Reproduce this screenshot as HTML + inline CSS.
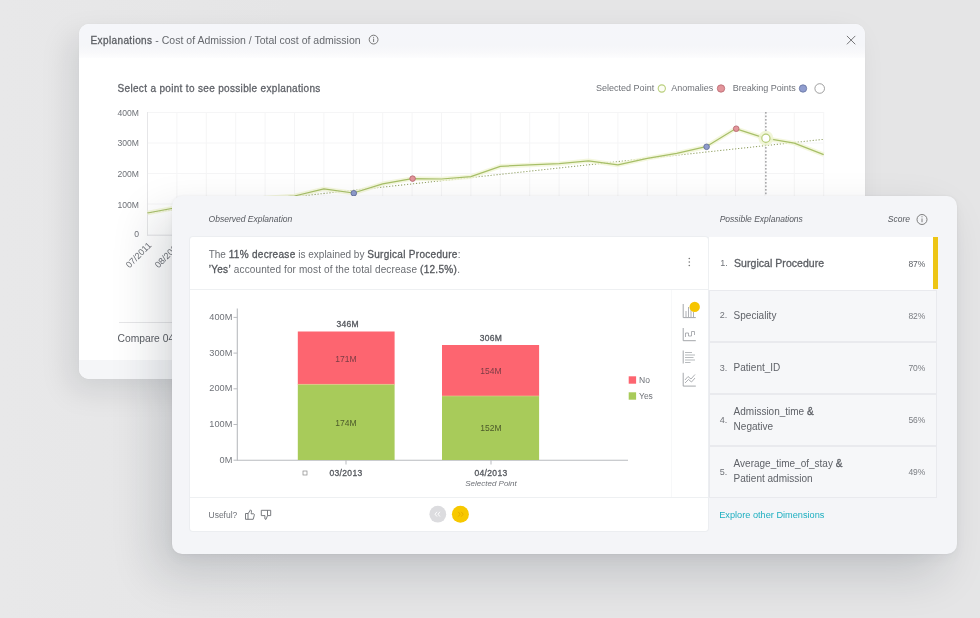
<!DOCTYPE html>
<html><head><meta charset="utf-8">
<style>
html,body{margin:0;padding:0;}
body{width:980px;height:618px;overflow:hidden;position:relative;background:#e5e5e6;font-family:"Liberation Sans",sans-serif;color:#5a5d63;}
.a{position:absolute;}
.t{position:absolute;white-space:nowrap;line-height:1;}
b{font-weight:400;-webkit-text-stroke:0.3px currentColor;letter-spacing:0.3px;}
svg{position:absolute;left:0;top:0;overflow:visible;}
</style></head><body><div style="position:absolute;left:0;top:0;width:980px;height:618px;overflow:hidden;filter:blur(0.3px);">

<div class="a" style="left:0;top:0;width:980px;height:618px;background:linear-gradient(90deg,#e8e8e9 0%,#e5e5e6 30%,#e5e5e6 100%);"></div>
<div class="a" style="left:79px;top:24px;width:786px;height:355px;border-radius:10px;background:#fff;box-shadow:-10px 12px 30px rgba(10,15,30,0.10), 0 0 2px rgba(0,0,0,0.04);overflow:hidden;"><div class="a" style="left:0;top:0;width:100%;height:34px;background:linear-gradient(#f5f6fa 0px,#f5f6f9 22px,#f9f9fb 29px,#fdfdfe 34px);"></div><div class="a" style="left:0;top:336px;width:100%;height:19px;background:#f5f6f8;"></div></div>
<div class="t" style="left:90.50px;top:34.73px;font-size:10px;color:#66696e;"><b style="color:#5c5f64;letter-spacing:0.39px">Explanations</b><span style="font-size:10.5px"> - Cost of Admission / Total cost of admission</span></div>
<div class="t" style="left:117.50px;top:83.53px;font-size:10px;color:#606369;"><b style="letter-spacing:0.33px">Select a point to see possible explanations</b></div>
<div class="t" style="left:596.10px;top:84.08px;font-size:9px;color:#6f7278;">Selected Point</div>
<div class="t" style="left:671.30px;top:84.08px;font-size:9px;color:#6f7278;">Anomalies</div>
<div class="t" style="left:732.80px;top:84.08px;font-size:9px;color:#6f7278;">Breaking Points</div>
<svg width="980" height="618">
<circle cx="373.6" cy="39.6" r="4.4" fill="none" stroke="#6a6a6a" stroke-width="0.9"/>
<line x1="373.6" y1="38.6" x2="373.6" y2="42" stroke="#6a6a6a" stroke-width="0.9"/>
<circle cx="373.6" cy="37.2" r="0.55" fill="#6a6a6a"/>
<path d="M846.9 35.9 L855.3 44.3 M855.3 35.9 L846.9 44.3" stroke="#707072" stroke-width="0.95"/>
<circle cx="661.8" cy="88.5" r="3.6" fill="#fcfdf5" stroke="#b9cf7c" stroke-width="1.1"/>
<circle cx="721" cy="88.5" r="3.7" fill="#e3959b" stroke="#b8666f" stroke-width="0.8"/>
<circle cx="803" cy="88.5" r="3.7" fill="#909dcf" stroke="#65729f" stroke-width="0.8"/>
<circle cx="819.7" cy="88.5" r="4.8" fill="none" stroke="#808080" stroke-width="0.75"/>
<line x1="176.9" y1="112" x2="176.9" y2="235" stroke="#f5f5f6" stroke-width="1"/>
<line x1="206.3" y1="112" x2="206.3" y2="235" stroke="#f5f5f6" stroke-width="1"/>
<line x1="235.7" y1="112" x2="235.7" y2="235" stroke="#f5f5f6" stroke-width="1"/>
<line x1="265.1" y1="112" x2="265.1" y2="235" stroke="#f5f5f6" stroke-width="1"/>
<line x1="294.5" y1="112" x2="294.5" y2="235" stroke="#f5f5f6" stroke-width="1"/>
<line x1="323.9" y1="112" x2="323.9" y2="235" stroke="#f5f5f6" stroke-width="1"/>
<line x1="353.3" y1="112" x2="353.3" y2="235" stroke="#f5f5f6" stroke-width="1"/>
<line x1="382.7" y1="112" x2="382.7" y2="235" stroke="#f5f5f6" stroke-width="1"/>
<line x1="412.1" y1="112" x2="412.1" y2="235" stroke="#f5f5f6" stroke-width="1"/>
<line x1="441.5" y1="112" x2="441.5" y2="235" stroke="#f5f5f6" stroke-width="1"/>
<line x1="470.9" y1="112" x2="470.9" y2="235" stroke="#f5f5f6" stroke-width="1"/>
<line x1="500.3" y1="112" x2="500.3" y2="235" stroke="#f5f5f6" stroke-width="1"/>
<line x1="529.7" y1="112" x2="529.7" y2="235" stroke="#f5f5f6" stroke-width="1"/>
<line x1="559.1" y1="112" x2="559.1" y2="235" stroke="#f5f5f6" stroke-width="1"/>
<line x1="588.5" y1="112" x2="588.5" y2="235" stroke="#f5f5f6" stroke-width="1"/>
<line x1="617.9" y1="112" x2="617.9" y2="235" stroke="#f5f5f6" stroke-width="1"/>
<line x1="647.3" y1="112" x2="647.3" y2="235" stroke="#f5f5f6" stroke-width="1"/>
<line x1="676.7" y1="112" x2="676.7" y2="235" stroke="#f5f5f6" stroke-width="1"/>
<line x1="706.1" y1="112" x2="706.1" y2="235" stroke="#f5f5f6" stroke-width="1"/>
<line x1="735.5" y1="112" x2="735.5" y2="235" stroke="#f5f5f6" stroke-width="1"/>
<line x1="764.9" y1="112" x2="764.9" y2="235" stroke="#f5f5f6" stroke-width="1"/>
<line x1="794.3" y1="112" x2="794.3" y2="235" stroke="#f5f5f6" stroke-width="1"/>
<line x1="823.7" y1="112" x2="823.7" y2="235" stroke="#f5f5f6" stroke-width="1"/>
<line x1="147.5" y1="112.5" x2="823.7" y2="112.5" stroke="#f5f5f6" stroke-width="1"/>
<line x1="147.5" y1="143" x2="823.7" y2="143" stroke="#f5f5f6" stroke-width="1"/>
<line x1="147.5" y1="173.5" x2="823.7" y2="173.5" stroke="#f5f5f6" stroke-width="1"/>
<line x1="147.5" y1="204" x2="823.7" y2="204" stroke="#f5f5f6" stroke-width="1"/>
<line x1="147.5" y1="112" x2="147.5" y2="235.5" stroke="#e6e6e8" stroke-width="1"/>
<line x1="147" y1="235.2" x2="823.7" y2="235.2" stroke="#e3e3e5" stroke-width="1"/>
<line x1="765.9" y1="112" x2="765.9" y2="236" stroke="#78787b" stroke-width="1" stroke-dasharray="1.7 1.8"/>
<line x1="147.5" y1="212.6" x2="823.7" y2="139.3" stroke="#93a266" stroke-width="1.05" stroke-dasharray="1.2 1.8"/>
<polyline points="147.5,213.0 176.9,207.5 206.3,204.0 235.7,201.0 265.1,198.0 294.5,196.0 323.9,188.9 353.3,193.0 382.7,183.8 412.1,178.6 441.5,179.0 470.9,176.7 500.3,166.3 529.7,164.9 559.1,163.7 588.5,160.8 617.9,164.9 647.3,158.4 676.7,153.4 706.1,146.7 735.5,128.7 764.9,138.2 794.3,143.1 823.7,154.6" fill="none" stroke="#f1f5d6" stroke-width="4.5" stroke-linejoin="round" opacity="0.8"/>
<polyline points="147.5,213.0 176.9,207.5 206.3,204.0 235.7,201.0 265.1,198.0 294.5,196.0 323.9,188.9 353.3,193.0 382.7,183.8 412.1,178.6 441.5,179.0 470.9,176.7 500.3,166.3 529.7,164.9 559.1,163.7 588.5,160.8 617.9,164.9 647.3,158.4 676.7,153.4 706.1,146.7 735.5,128.7 764.9,138.2 794.3,143.1 823.7,154.6" fill="none" stroke="#a7bf68" stroke-width="1.25" stroke-linejoin="round"/>
<circle cx="353.8" cy="193.2" r="2.8" fill="#8f9ccc" stroke="#5d6a96" stroke-width="0.8"/>
<circle cx="412.6" cy="178.6" r="2.8" fill="#e3959b" stroke="#b4626b" stroke-width="0.8"/>
<circle cx="706.6" cy="146.8" r="2.8" fill="#8f9ccc" stroke="#5d6a96" stroke-width="0.8"/>
<circle cx="736.2" cy="128.7" r="2.8" fill="#e3959b" stroke="#b4626b" stroke-width="0.8"/>
<circle cx="765.9" cy="138.2" r="7.5" fill="#eef5d2" opacity="0.85"/>
<circle cx="765.9" cy="138.2" r="4.1" fill="#fff" stroke="#b6cc78" stroke-width="1.2"/>
<line x1="119" y1="322.5" x2="845" y2="322.5" stroke="#e6e6e8" stroke-width="1"/>
</svg>
<div class="t" style="right:841.00px;top:108.72px;font-size:8.6px;color:#6f7278;">400M</div>
<div class="t" style="right:841.00px;top:139.32px;font-size:8.6px;color:#6f7278;">300M</div>
<div class="t" style="right:841.00px;top:169.92px;font-size:8.6px;color:#6f7278;">200M</div>
<div class="t" style="right:841.00px;top:200.52px;font-size:8.6px;color:#6f7278;">100M</div>
<div class="t" style="right:841.00px;top:229.72px;font-size:8.6px;color:#6f7278;">0</div>
<div class="t" style="left:106.7px;top:241.0px;width:40px;text-align:right;font-size:9px;color:#6f7278;transform-origin:100% 0;transform:rotate(-45deg);">07/2011</div>
<div class="t" style="left:136.1px;top:241.0px;width:40px;text-align:right;font-size:9px;color:#6f7278;transform-origin:100% 0;transform:rotate(-45deg);">08/2011</div>
<div class="t" style="left:165.5px;top:241.0px;width:40px;text-align:right;font-size:9px;color:#6f7278;transform-origin:100% 0;transform:rotate(-45deg);">09/2011</div>
<div class="t" style="left:194.9px;top:241.0px;width:40px;text-align:right;font-size:9px;color:#6f7278;transform-origin:100% 0;transform:rotate(-45deg);">10/2011</div>
<div class="t" style="left:224.3px;top:241.0px;width:40px;text-align:right;font-size:9px;color:#6f7278;transform-origin:100% 0;transform:rotate(-45deg);">11/2011</div>
<div class="t" style="left:253.7px;top:241.0px;width:40px;text-align:right;font-size:9px;color:#6f7278;transform-origin:100% 0;transform:rotate(-45deg);">12/2011</div>
<div class="t" style="left:117.50px;top:333.58px;font-size:10.3px;color:#5a5d63;">Compare 04/2013 with 03/2013</div>
<div class="a" style="left:172px;top:195.5px;width:785px;height:358.5px;border-radius:10px;background:#f4f5f8;box-shadow:-16px 20px 46px rgba(20,28,45,0.16), 0 5px 12px rgba(20,28,45,0.035), 0 0 3px rgba(0,0,0,0.05);"></div>
<div class="t" style="left:208.60px;top:214.80px;font-size:8.5px;color:#56595f;font-style:italic;">Observed Explanation</div>
<div class="t" style="left:719.70px;top:214.60px;font-size:8.5px;color:#56595f;font-style:italic;">Possible Explanations</div>
<div class="t" style="right:70.00px;top:214.60px;font-size:8.5px;color:#56595f;font-style:italic;">Score</div>
<div class="a" style="left:190px;top:237px;width:518px;height:294px;background:#fff;border-radius:3px;box-shadow:0 0 0 1px #eceef1;"></div>
<div class="t" style="left:208.70px;top:250.43px;font-size:10px;color:#6a6d72;">The <b style="color:#55585d">11% decrease</b> is explained by <b style="color:#55585d">Surgical Procedure</b>:</div>
<div class="t" style="left:208.70px;top:265.24px;font-size:10px;color:#6a6d72;letter-spacing:0.12px;"><b style="color:#55585d">’Yes’</b> accounted for most of the total decrease <b style="color:#55585d">(12.5%)</b>.</div>
<svg width="980" height="618">
<circle cx="922" cy="219.5" r="5" fill="none" stroke="#707070" stroke-width="0.9"/>
<line x1="922" y1="218.5" x2="922" y2="222.2" stroke="#707070" stroke-width="0.9"/>
<circle cx="922" cy="216.8" r="0.55" fill="#707070"/>
<circle cx="689.3" cy="258.5" r="0.8" fill="#777"/>
<circle cx="689.3" cy="262" r="0.8" fill="#777"/>
<circle cx="689.3" cy="265.5" r="0.8" fill="#777"/>
<line x1="190" y1="289.5" x2="708" y2="289.5" stroke="#eef0f2" stroke-width="1"/>
<line x1="190" y1="497.5" x2="708" y2="497.5" stroke="#eef0f2" stroke-width="1"/>
<line x1="671.5" y1="290" x2="671.5" y2="497" stroke="#f7f8f9" stroke-width="1"/>
<line x1="237.3" y1="308.5" x2="237.3" y2="460.5" stroke="#b9bbbf" stroke-width="1.1"/>
<line x1="237" y1="460.3" x2="628" y2="460.3" stroke="#b9bbbf" stroke-width="1.1"/>
<line x1="233.5" y1="317.4" x2="237.3" y2="317.4" stroke="#b9bbbf" stroke-width="1"/>
<line x1="233.5" y1="353.1" x2="237.3" y2="353.1" stroke="#b9bbbf" stroke-width="1"/>
<line x1="233.5" y1="388.8" x2="237.3" y2="388.8" stroke="#b9bbbf" stroke-width="1"/>
<line x1="233.5" y1="424.5" x2="237.3" y2="424.5" stroke="#b9bbbf" stroke-width="1"/>
<line x1="233.5" y1="460.2" x2="237.3" y2="460.2" stroke="#b9bbbf" stroke-width="1"/>
<rect x="297.8" y="331.5" width="96.8" height="53" fill="#fd6570"/>
<rect x="297.8" y="384.4" width="96.8" height="75.6" fill="#a8cb5a"/>
<rect x="442" y="345" width="97.1" height="51" fill="#fd6570"/>
<rect x="442" y="396" width="97.1" height="64" fill="#a8cb5a"/>
<line x1="297.8" y1="384.4" x2="394.6" y2="384.4" stroke="#e8c890" stroke-width="0.9" opacity="0.7"/>
<line x1="442" y1="396" x2="539.1" y2="396" stroke="#e8c890" stroke-width="0.9" opacity="0.7"/>
<line x1="346" y1="460" x2="346" y2="464.5" stroke="#b9bbbf" stroke-width="1"/>
<line x1="491" y1="460" x2="491" y2="464.5" stroke="#b9bbbf" stroke-width="1"/>
<rect x="303" y="471" width="4" height="4" fill="none" stroke="#888" stroke-width="0.7"/>
<rect x="628.7" y="376.3" width="7.4" height="7.4" fill="#fd6570"/>
<rect x="628.7" y="392.3" width="7.4" height="7.4" fill="#a8cb5a"/>
<path d="M683.2 304 V317.6 H695.8" fill="none" stroke="#9a9da2" stroke-width="0.9"/>
<path d="M686 317 V311 M688.5 317 V307 M691 317 V309 M693.5 317 V312" fill="none" stroke="#9a9da2" stroke-width="0.8"/>
<circle cx="694.7" cy="306.9" r="5.2" fill="#f6c500"/>
<path d="M683.2 328 V340.7 H695.8" fill="none" stroke="#9a9da2" stroke-width="0.9"/>
<path d="M685.5 337 V333 H688.5 V336 H691.5 V331.5 H694.5 V335" fill="none" stroke="#9a9da2" stroke-width="0.8"/>
<path d="M683.2 350.5 V363.5" fill="none" stroke="#9a9da2" stroke-width="0.9"/>
<path d="M685 352.5 H692 M685 355 H695 M685 357.5 H693.5 M685 360 H695 M685 362.5 H690.5" fill="none" stroke="#9a9da2" stroke-width="0.7"/>
<path d="M683.2 372.8 V386.1 H695.8" fill="none" stroke="#9a9da2" stroke-width="0.9"/>
<path d="M685 380 L688 376.5 L691 379 L695 374.5 M685 383 L688.5 379.5 L691.5 382 L695 378" fill="none" stroke="#9a9da2" stroke-width="0.8"/>
<path d="M245.5 513.5 H248 V519.3 H245.5 Z M248 513.8 L250.5 509.8 Q251.8 510.2 251.4 512.5 L251.1 513.8 H253.8 Q254.6 514.2 254.3 515.2 L253.2 519.3 H248" fill="none" stroke="#6a6d72" stroke-width="0.9" stroke-linejoin="round"/>
<path d="M261.3 510.3 H270.7 V515.6 H267.5 L266 519.4 Q264.8 519.5 264.8 518 L265 515.6 H261.3 Z M267.5 510.3 V515.6" fill="none" stroke="#6a6d72" stroke-width="0.9" stroke-linejoin="round"/>
<circle cx="437.8" cy="514.2" r="8.4" fill="#dcdcdf"/>
<path d="M437 511.8 L435 514.2 L437 516.6 M440 511.8 L438 514.2 L440 516.6" fill="none" stroke="#fff" stroke-width="0.9"/>
<circle cx="460.4" cy="514.2" r="8.5" fill="#f7c800"/>
<path d="M458.2 511.8 L460.2 514.2 L458.2 516.6 M461.2 511.8 L463.2 514.2 L461.2 516.6" fill="none" stroke="#e3a800" stroke-width="0.9"/>
</svg>
<div class="t" style="right:747.70px;top:312.81px;font-size:9.2px;color:#6f7278;">400M</div>
<div class="t" style="right:747.70px;top:348.51px;font-size:9.2px;color:#6f7278;">300M</div>
<div class="t" style="right:747.70px;top:384.21px;font-size:9.2px;color:#6f7278;">200M</div>
<div class="t" style="right:747.70px;top:419.91px;font-size:9.2px;color:#6f7278;">100M</div>
<div class="t" style="right:747.70px;top:455.61px;font-size:9.2px;color:#6f7278;">0M</div>
<div class="t" style="left:347.60px;transform:translateX(-50%);top:319.70px;font-size:8.5px;color:#55585e;"><b style="letter-spacing:0.25px">346M</b></div>
<div class="t" style="left:491.00px;transform:translateX(-50%);top:334.20px;font-size:8.5px;color:#55585e;"><b style="letter-spacing:0.25px">306M</b></div>
<div class="t" style="left:346.00px;transform:translateX(-50%);top:354.50px;font-size:8.5px;color:#7a3c44;">171M</div>
<div class="t" style="left:346.00px;transform:translateX(-50%);top:418.90px;font-size:8.5px;color:#4c5a2a;">174M</div>
<div class="t" style="left:491.00px;transform:translateX(-50%);top:366.90px;font-size:8.5px;color:#7a3c44;">154M</div>
<div class="t" style="left:491.00px;transform:translateX(-50%);top:423.60px;font-size:8.5px;color:#4c5a2a;">152M</div>
<div class="t" style="left:346.00px;transform:translateX(-50%);top:468.90px;font-size:8.5px;color:#55585e;"><b style="letter-spacing:0.36px">03/2013</b></div>
<div class="t" style="left:491.00px;transform:translateX(-50%);top:468.90px;font-size:8.5px;color:#55585e;"><b style="letter-spacing:0.36px">04/2013</b></div>
<div class="t" style="left:491.00px;transform:translateX(-50%);top:480.23px;font-size:8px;color:#6f7278;font-style:italic;">Selected Point</div>
<div class="t" style="left:639.00px;top:375.80px;font-size:8.5px;color:#6f7278;">No</div>
<div class="t" style="left:639.00px;top:391.80px;font-size:8.5px;color:#6f7278;">Yes</div>
<div class="t" style="left:208.50px;top:510.80px;font-size:8.5px;color:#6f7278;">Useful?</div>
<div class="a" style="left:708px;top:236.5px;width:225px;height:53.0px;background:#fff;border-left:1px solid #eef0f2;box-sizing:border-box;"></div>
<div class="a" style="left:933px;top:236.5px;width:4.6px;height:52.0px;background:#edc515;"></div>
<div class="a" style="left:709px;top:289.5px;width:228px;height:52.0px;background:#f6f7f9;border:1px solid #e9eaee;box-sizing:border-box;"></div>
<div class="a" style="left:709px;top:341.5px;width:228px;height:52.0px;background:#f6f7f9;border:1px solid #e9eaee;box-sizing:border-box;"></div>
<div class="a" style="left:709px;top:393.5px;width:228px;height:52.0px;background:#f6f7f9;border:1px solid #e9eaee;box-sizing:border-box;"></div>
<div class="a" style="left:709px;top:445.5px;width:228px;height:52.0px;background:#f6f7f9;border:1px solid #e9eaee;box-sizing:border-box;"></div>
<div class="t" style="left:720.20px;top:259.08px;font-size:9px;color:#6f7278;">1.</div>
<div class="t" style="left:734.00px;top:257.81px;font-size:10.5px;color:#5a5d62;"><b style="letter-spacing:0.05px">Surgical Procedure</b></div>
<div class="t" style="right:54.60px;top:259.50px;font-size:8.5px;color:#5f6268;">87%</div>
<div class="t" style="left:719.70px;top:311.38px;font-size:9px;color:#6f7278;">2.</div>
<div class="t" style="left:733.60px;top:310.54px;font-size:10px;color:#5f6268;">Speciality</div>
<div class="t" style="right:54.60px;top:311.80px;font-size:8.5px;color:#7a7d82;">82%</div>
<div class="t" style="left:719.70px;top:363.58px;font-size:9px;color:#6f7278;">3.</div>
<div class="t" style="left:733.60px;top:362.74px;font-size:10px;color:#5f6268;">Patient_ID</div>
<div class="t" style="right:54.60px;top:364.00px;font-size:8.5px;color:#7a7d82;">70%</div>
<div class="t" style="left:719.70px;top:415.88px;font-size:9px;color:#6f7278;">4.</div>
<div class="t" style="left:733.60px;top:406.54px;font-size:10px;color:#5f6268;">Admission_time <b>&amp;</b></div>
<div class="t" style="left:733.60px;top:421.54px;font-size:10px;color:#5f6268;">Negative</div>
<div class="t" style="right:54.60px;top:416.30px;font-size:8.5px;color:#7a7d82;">56%</div>
<div class="t" style="left:719.70px;top:467.88px;font-size:9px;color:#6f7278;">5.</div>
<div class="t" style="left:733.60px;top:458.54px;font-size:10px;color:#5f6268;">Average_time_of_stay <b>&amp;</b></div>
<div class="t" style="left:733.60px;top:473.54px;font-size:10px;color:#5f6268;">Patient admission</div>
<div class="t" style="right:54.60px;top:468.30px;font-size:8.5px;color:#7a7d82;">49%</div>
<div class="t" style="left:719.20px;top:510.71px;font-size:9.2px;color:#1eafc0;">Explore other Dimensions</div>
</div></body></html>
